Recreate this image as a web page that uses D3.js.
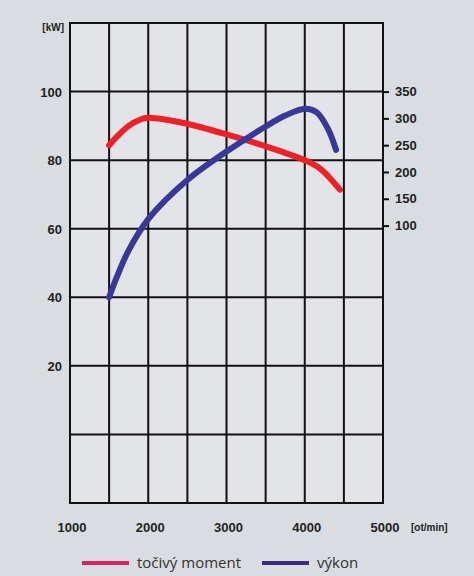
<!DOCTYPE html>
<html><head><meta charset="utf-8">
<script src="https://cdn.jsdelivr.net/npm/d3@7"></script>
<style>body{margin:0;background:#d9dce1;}svg{display:block;font-family:"Liberation Sans",Arial,sans-serif;}</style>
</head><body>
<svg width="474" height="576"></svg>
<script>
// rpm grid and tick labels
const rpmTicks = [1000, 2000, 3000, 4000, 5000];
const kwTicks = [20, 40, 60, 80, 100];
const nmTicks = [100, 150, 200, 250, 300, 350];

// točivý moment [Nm]
const torqueRpm = [1500, 1600, 1750, 1900, 2000, 2250, 2500, 3000, 3500, 4000, 4200, 4450];
const torqueNm  = [250, 266, 286, 298, 301, 297, 290, 270, 248, 222, 206, 167];

// výkon [kW]
const powerRpm = [1500, 1600, 1750, 2000, 2500, 3000, 3500, 3750, 4000, 4150, 4300, 4400];
const powerKw  = [40, 46, 53.7, 62.8, 74.2, 82.5, 89.8, 93, 95, 94, 89, 83];

const svg = d3.select("svg");
const x = d3.scaleLinear().domain([1000, 5000]).range([70, 383]);
const y = d3.scaleLinear().domain([-20, 120]).range([503, 23]);
const y2 = d3.scaleLinear().domain([100, 350]).range([y(100) + 134, y(100)]);

svg.append("rect").attr("x", x(1000)).attr("y", y(120)).attr("width", x(5000) - x(1000))
  .attr("height", y(-20) - y(120)).attr("fill", "#e3e4e8");

const g = svg.append("g").attr("stroke", "#111").attr("stroke-width", 2);
g.selectAll(".v").data(d3.range(1000, 5001, 500)).join("line")
  .attr("x1", d => x(d)).attr("x2", d => x(d)).attr("y1", y(120)).attr("y2", y(-20));
g.selectAll(".h").data(d3.range(-20, 121, 20)).join("line")
  .attr("x1", x(1000) - 1).attr("x2", x(5000) + 1).attr("y1", d => y(d)).attr("y2", d => y(d));

svg.append("g").selectAll("text").data(kwTicks).join("text")
  .attr("x", 62).attr("y", d => y(d) + 5).attr("text-anchor", "end")
  .attr("font-size", 13).attr("font-weight", "bold").attr("fill", "#222").text(d => d);
svg.append("text").attr("x", 64).attr("y", 31).attr("text-anchor", "end")
  .attr("font-size", 10).attr("font-weight", "bold").attr("fill", "#222").text("[kW]");

const r = svg.append("g").attr("transform", `translate(${x(5000)},0)`)
  .call(d3.axisRight(y2).tickValues(nmTicks).tickSize(6).tickPadding(6));
r.select(".domain").remove();
r.selectAll("line").attr("stroke", "#111").attr("stroke-width", 2);
r.selectAll("text").attr("font-size", 13).attr("font-weight", "bold").attr("fill", "#222")
  .attr("font-family", "Liberation Sans, Arial, sans-serif");

svg.append("g").selectAll("text").data(rpmTicks).join("text")
  .attr("x", d => x(d) + 2).attr("y", 532).attr("text-anchor", "middle")
  .attr("font-size", 13).attr("font-weight", "bold").attr("fill", "#222").text(d => d);
svg.append("text").attr("x", 411).attr("y", 531).attr("font-size", 10).attr("font-weight", "bold")
  .attr("fill", "#222").text("[ot/min]");

svg.append("path").attr("fill", "none").attr("stroke", "#ee2128").attr("stroke-width", 6)
  .attr("stroke-linecap", "round")
  .attr("d", d3.line().curve(d3.curveCatmullRom)(torqueRpm.map((r, i) => [x(r), y2(torqueNm[i])])));
svg.append("path").attr("fill", "none").attr("stroke", "#38389a").attr("stroke-width", 6)
  .attr("stroke-linecap", "round")
  .attr("d", d3.line().curve(d3.curveCatmullRom)(powerRpm.map((r, i) => [x(r), y(powerKw[i])])));

const legend = [["točivý moment", "#d8235a", 82], ["výkon", "#3d2b7e", 262]];
legend.forEach(([t, c, lx]) => {
  svg.append("rect").attr("x", lx).attr("y", 561).attr("width", 47).attr("height", 4).attr("fill", c);
  svg.append("text").attr("x", lx + 55).attr("y", 568).attr("font-size", 15)
    .attr("font-family", "Open Sans, sans-serif").attr("fill", "#333").text(t);
});
</script>
</body></html>
